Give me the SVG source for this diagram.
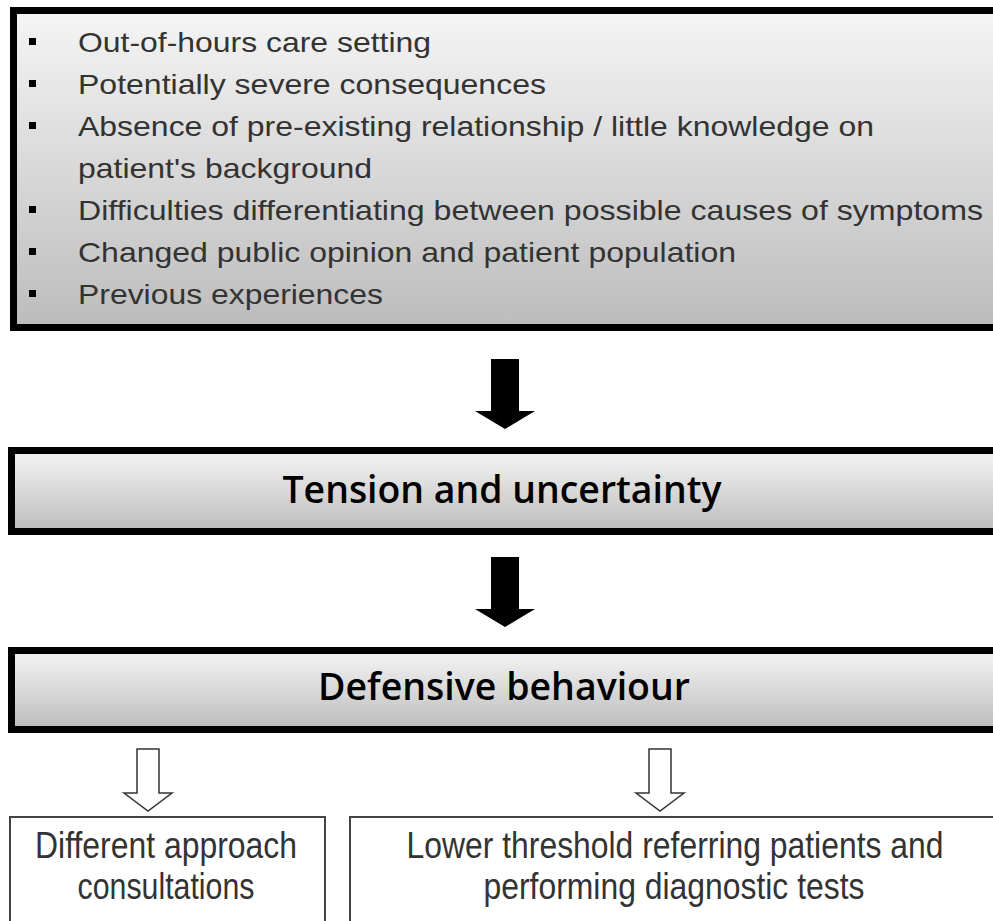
<svg xmlns="http://www.w3.org/2000/svg" width="993" height="921" viewBox="0 0 993 921">
<defs>
<linearGradient id="g" x1="0" y1="0" x2="0" y2="1">
<stop offset="0" stop-color="#f5f5f5"/>
<stop offset="1" stop-color="#bcbcbc"/>
</linearGradient>
</defs>
<style>
.box{fill:url(#g);stroke:#000;stroke-width:7}
.thin{fill:#fff;stroke:#444;stroke-width:2}
.li{font-family:"Liberation Sans",Arial,sans-serif;font-size:28px;fill:#333}
.bul{fill:#000}
.hd{font-family:"Open Sans","Liberation Sans",sans-serif;font-weight:600;font-size:38px;fill:#000;text-anchor:middle}
.bt{font-family:"Liberation Sans",Arial,sans-serif;font-size:37px;fill:#333;text-anchor:middle}
.solid{fill:#000}
.open{fill:#fff;stroke:#333;stroke-width:1.5}
</style>
<rect width="993" height="921" fill="#fff"/>
<g id="factors">
<rect class="box" x="13.5" y="10.5" width="1000" height="317"/>
<rect class="bul" x="29" y="38" width="7" height="7"/>
<rect class="bul" x="29" y="80" width="7" height="7"/>
<rect class="bul" x="29" y="122" width="7" height="7"/>
<rect class="bul" x="29" y="206" width="7" height="7"/>
<rect class="bul" x="29" y="248" width="7" height="7"/>
<rect class="bul" x="29" y="290" width="7" height="7"/>
<text class="li" x="78" y="52" textLength="353" lengthAdjust="spacingAndGlyphs">Out-of-hours care setting</text>
<text class="li" x="78" y="94" textLength="468" lengthAdjust="spacingAndGlyphs">Potentially severe consequences</text>
<text class="li" x="78" y="136" textLength="796" lengthAdjust="spacingAndGlyphs">Absence of pre-existing relationship / little knowledge on</text>
<text class="li" x="78" y="178" textLength="294" lengthAdjust="spacingAndGlyphs">patient's background</text>
<text class="li" x="78" y="220" textLength="905" lengthAdjust="spacingAndGlyphs">Difficulties differentiating between possible causes of symptoms</text>
<text class="li" x="78" y="262" textLength="658" lengthAdjust="spacingAndGlyphs">Changed public opinion and patient population</text>
<text class="li" x="78" y="304" textLength="305" lengthAdjust="spacingAndGlyphs">Previous experiences</text>
</g>
<g id="tension">
<rect class="box" x="11.5" y="450.5" width="1000" height="81"/>
<text class="hd" x="502" y="503" textLength="439" lengthAdjust="spacingAndGlyphs">Tension and uncertainty</text>
</g>
<g id="defensive">
<rect class="box" x="11.5" y="650.5" width="1000" height="79"/>
<text class="hd" x="504" y="700" textLength="372" lengthAdjust="spacingAndGlyphs">Defensive behaviour</text>
</g>
<g id="approach">
<rect class="thin" x="10" y="817" width="315" height="130"/>
<text class="bt" x="166" y="858" textLength="262" lengthAdjust="spacingAndGlyphs">Different approach</text>
<text class="bt" x="166" y="899" textLength="177" lengthAdjust="spacingAndGlyphs">consultations</text>
</g>
<g id="threshold">
<rect class="thin" x="350" y="817" width="700" height="130"/>
<text class="bt" x="675" y="858" textLength="537" lengthAdjust="spacingAndGlyphs">Lower threshold referring patients and</text>
<text class="bt" x="674" y="899" textLength="381" lengthAdjust="spacingAndGlyphs">performing diagnostic tests</text>
</g>
<g id="connectors">
<path class="solid" d="M491,359 H519 V411 H535 L505,429 L475,411 H491 Z"/>
<path class="solid" d="M491,557 H519 V609 H535 L505,627 L475,609 H491 Z"/>
<path class="open" d="M137,749 H159 V793 H172 L148,811 L124,793 H137 Z"/>
<path class="open" d="M649,749 H671 V793 H684 L660,811 L636,793 H649 Z"/>
</g>
</svg>
